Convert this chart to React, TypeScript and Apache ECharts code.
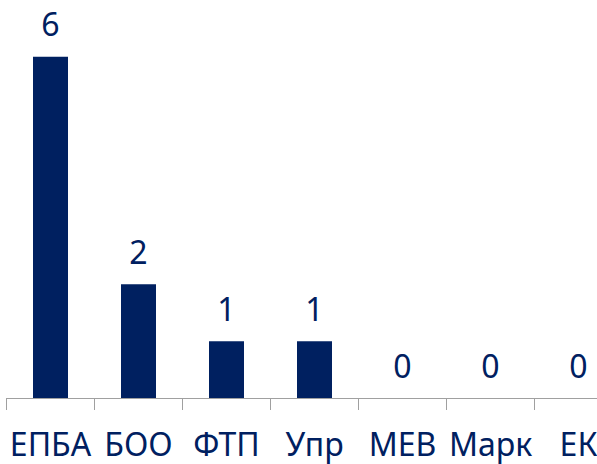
import React, { useEffect, useRef } from "react";
import * as echarts from "echarts";

const categories = ["ЕПБА", "БОО", "ФТП", "Упр", "МЕВ", "Марк", "ЕК"];
const values = [6, 2, 1, 1, 0, 0, 0];

const NAVY = "#002060";

export default function App() {
  const ref = useRef<HTMLDivElement>(null);
  useEffect(() => {
    if (!ref.current) return;
    const chart = echarts.init(ref.current, undefined, { renderer: "svg" });
    chart.setOption({
      animation: false,
      grid: { left: 6.5, top: 0, width: 616, height: 398, containLabel: false },
      xAxis: {
        type: "category",
        data: categories,
        axisLine: { show: true, lineStyle: { color: "#a0a0a0", width: 1 } },
        axisTick: { show: true, length: 12, lineStyle: { color: "#a0a0a0" } },
        axisLabel: {
          color: NAVY,
          fontFamily: "Noto Sans",
          fontSize: 32,
          margin: 29,
          interval: 0,
        },
      },
      yAxis: {
        type: "value",
        min: 0,
        max: 7,
        show: false,
        splitLine: { show: false },
      },
      series: [
        {
          type: "bar",
          data: values,
          barWidth: 35,
          itemStyle: { color: NAVY },
          label: {
            show: true,
            position: "top",
            distance: 17,
            color: NAVY,
            fontFamily: "Noto Sans",
            fontSize: 32,
          },
        },
      ],
    });
    return () => chart.dispose();
  }, []);
  return (
    <div style={{ position: "fixed", left: 0, top: 0, width: 597, height: 464, overflow: "hidden", background: "#fff" }}>
      <div ref={ref} style={{ width: 640, height: 464 }} />
    </div>
  );
}
